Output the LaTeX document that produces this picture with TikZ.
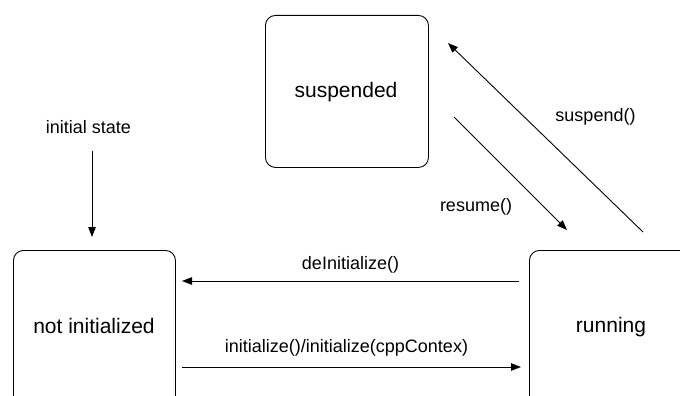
\documentclass[tikz,border=0pt]{standalone}
\usepackage{fontspec}
\setmainfont{Liberation Sans}
\usetikzlibrary{arrows.meta}
\begin{document}
\begin{tikzpicture}[x=1pt,y=-1pt,
  box/.style={draw=black, line width=0.9pt, rounded corners=10pt, inner sep=0pt},
  statetext/.style={font=\fontsize{21}{24}\selectfont, inner sep=0pt},
  edgetext/.style={font=\fontsize{18}{21}\selectfont, inner sep=0pt},
  arr/.style={draw=black, line width=0.9pt, -{Triangle[length=10pt,width=7.5pt]}}]
\useasboundingbox (0,0) rectangle (680,396);
\clip (0,0) rectangle (680,396);
% states
\node[box, minimum width=162pt, minimum height=180pt, anchor=north west] (ni) at (13,250) {};
\node[statetext] (nitext) at (94,326) {not initialized};
\node[box, minimum width=190pt, minimum height=180pt, anchor=north west] (run) at (529,250) {};
\node[statetext] (runtext) at (611,327) {running};
\node[box, minimum width=163pt, minimum height=152pt, anchor=north west] (sus) at (265,15) {};
\node[statetext] (sustext) at (346,92) {suspended};
% initial
\node[edgetext] (init) at (88.5,127) {initial state};
\coordinate (initS) at (92,150.5);
\coordinate (initE) at (92,237);
\draw[arr] (initS) -- (initE);
% deInitialize
\coordinate (deS) at (519,281);
\coordinate (deE) at (182,281);
\draw[arr] (deS) -- (deE);
\node[edgetext] (detext) at (350.5,265) {deInitialize()};
% initialize
\coordinate (inS) at (182,367);
\coordinate (inE) at (521,367);
\draw[arr] (inS) -- (inE);
\node[edgetext] (intext) at (346.5,348) {initialize()/initialize(cppContex)};
% resume
\coordinate (reS) at (454,117);
\coordinate (reE) at (567,230);
\draw[arr] (reS) -- (reE);
\node[edgetext] (retext) at (476,207) {resume()};
% suspend
\coordinate (suS) at (643,232);
\coordinate (suE) at (448,43);
\draw[arr] (suS) -- (suE);
\node[edgetext] (sutext) at (595.5,117) {suspend()};
\end{tikzpicture}
\end{document}
